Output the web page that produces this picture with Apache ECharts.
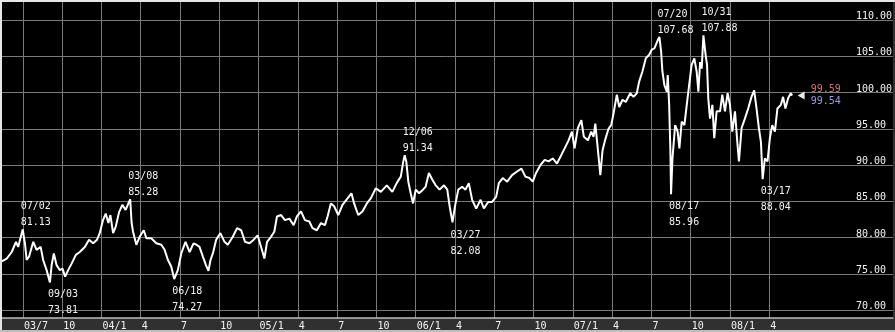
<!DOCTYPE html>
<html>
<head>
<meta charset="utf-8">
<script src="https://cdn.jsdelivr.net/npm/echarts@6/dist/echarts.min.js"></script>
<style>
html,body{margin:0;padding:0;background:#000;}
#c{width:895px;height:332px;}
</style>
</head>
<body>
<div id="c"></div>
<script>
// ---- data (decimal year, price) ----
const years = [
2003.365,2003.397,2003.429,2003.456,2003.470,2003.499,2003.513,2003.524,2003.540,2003.566,
2003.587,2003.613,2003.629,2003.651,2003.672,2003.683,2003.697,2003.714,2003.735,2003.752,
2003.769,2003.788,2003.810,2003.837,2003.862,2003.894,2003.921,2003.947,2003.972,2003.989,
2004.010,2004.027,2004.044,2004.057,2004.074,2004.091,2004.112,2004.133,2004.154,2004.183,
2004.192,2004.201,2004.222,2004.243,2004.269,2004.286,2004.317,2004.349,2004.381,2004.402,
2004.423,2004.444,2004.463,2004.486,2004.508,2004.535,2004.561,2004.586,2004.605,2004.624,
2004.645,2004.665,2004.681,2004.694,2004.709,2004.730,2004.757,2004.783,2004.804,2004.836,
2004.863,2004.889,2004.914,2004.942,2004.969,2004.994,2005.016,2005.037,2005.054,2005.079,
2005.100,2005.117,2005.143,2005.168,2005.196,2005.223,2005.244,2005.270,2005.295,2005.323,
2005.343,2005.371,2005.397,2005.422,2005.439,2005.460,2005.481,2005.507,2005.534,2005.566,
2005.591,2005.608,2005.634,2005.661,2005.689,2005.714,2005.746,2005.778,2005.816,2005.851,
2005.879,2005.905,2005.921,2005.930,2005.940,2005.953,2005.968,2005.983,2006.000,2006.021,
2006.046,2006.063,2006.084,2006.105,2006.127,2006.152,2006.180,2006.201,2006.216,2006.234,
2006.250,2006.271,2006.296,2006.317,2006.338,2006.359,2006.385,2006.413,2006.434,2006.461,
2006.486,2006.512,2006.529,2006.554,2006.582,2006.613,2006.645,2006.673,2006.698,2006.724,
2006.745,2006.766,2006.794,2006.821,2006.846,2006.872,2006.899,2006.927,2006.948,2006.973,
2006.994,2007.011,2007.032,2007.054,2007.070,2007.096,2007.117,2007.132,2007.143,2007.153,
2007.164,2007.175,2007.189,2007.206,2007.227,2007.244,2007.259,2007.280,2007.295,2007.316,
2007.337,2007.365,2007.386,2007.407,2007.422,2007.443,2007.464,2007.486,2007.502,2007.519,
2007.540,2007.551,2007.562,2007.570,2007.583,2007.598,2007.604,2007.613,2007.621,2007.625,
2007.634,2007.651,2007.667,2007.678,2007.693,2007.710,2007.725,2007.740,2007.756,2007.773,
2007.788,2007.799,2007.810,2007.820,2007.831,2007.845,2007.854,2007.862,2007.873,2007.888,
2007.900,2007.915,2007.937,2007.951,2007.968,2007.985,2008.000,2008.015,2008.032,2008.048,
2008.057,2008.074,2008.095,2008.116,2008.137,2008.154,2008.169,2008.184,2008.197,2008.208,
2008.222,2008.239,2008.254,2008.269,2008.286,2008.302,2008.324,2008.338,2008.353,2008.370,
2008.387,2008.396
];
const prices = [
76.7,77.1,78.0,79.4,78.7,81.13,79.2,76.9,77.4,79.4,
78.3,78.7,76.9,75.5,73.81,76.2,77.8,76.2,75.5,75.7,
74.6,75.5,76.4,77.6,78.0,78.7,79.7,79.2,79.7,80.6,
82.4,83.3,82.0,83.1,80.6,81.5,83.5,84.5,83.8,85.28,
82.0,80.8,79.0,80.1,81.0,79.9,79.9,79.2,79.0,78.3,
76.9,76.0,74.27,75.5,77.8,79.4,78.0,79.2,79.0,78.7,
77.4,76.2,75.4,76.9,77.8,79.7,80.6,79.4,79.0,80.1,
81.3,81.0,79.4,79.2,79.7,80.3,78.7,77.1,79.4,80.1,
80.8,82.9,83.1,82.4,82.6,81.7,82.9,83.6,82.4,82.2,
81.3,81.0,82.0,81.7,82.9,84.7,84.3,83.1,84.5,85.4,
86.1,84.7,83.1,83.6,84.7,85.4,86.8,86.3,87.2,86.3,
87.5,88.4,90.5,91.34,90.5,87.7,86.1,84.7,86.6,86.1,
86.6,87.0,88.9,88.0,87.2,86.6,87.2,86.6,84.3,82.08,
84.3,86.6,87.0,86.6,87.5,85.2,84.0,85.2,84.0,84.9,
84.9,85.6,87.5,88.2,87.7,88.6,89.1,89.5,88.4,88.2,
87.7,88.9,90.0,90.7,90.5,90.9,90.2,91.4,92.3,93.4,
94.6,92.3,95.1,96.2,93.9,93.4,94.6,93.9,95.7,95.5,
91.1,88.6,92.0,93.5,95.0,95.5,97.1,99.7,98.0,99.0,
98.7,99.9,99.4,99.9,101.5,102.9,104.7,105.2,105.9,106.1,
107.2,107.68,105.6,102.9,101.0,100.1,102.4,98.3,91.8,85.96,
90.9,95.5,94.6,92.3,96.0,95.5,98.3,101.0,103.8,104.7,
102.9,100.1,104.2,103.3,107.88,105.2,103.8,99.2,96.4,98.3,
93.7,97.4,97.4,99.7,97.4,99.9,98.3,94.6,97.4,92.8,
90.5,95.1,96.4,97.8,99.4,100.3,97.8,95.1,93.2,88.04,
90.9,90.5,93.7,95.5,94.6,97.8,98.3,99.4,97.8,99.2,
99.9,99.59
];

// ---- axis ticks ----
const xTicks = [2003.5,2003.75,2004.0,2004.25,2004.5,2004.75,2005.0,2005.25,2005.5,2005.75,
  2006.0,2006.25,2006.5,2006.75,2007.0,2007.25,2007.5,2007.75,2008.0,2008.25];
const xTickLabels = ['03/7','10','04/1','4','7','10','05/1','4','7','10',
  '06/1','4','7','10','07/1','4','7','10','08/1','4'];
const yTicks = [70,75,80,85,90,95,100,105,110];

// ---- high/low annotations ----
const extLabels = ['07/02','09/03','03/08','06/18','12/06','03/27','07/20','08/17','10/31','03/17'];
const extYears  = [2003.499,2003.672,2004.183,2004.463,2005.930,2006.234,2007.551,2007.625,2007.831,2008.208];
const extValues = [81.13,73.81,85.28,74.27,91.34,82.08,107.68,85.96,107.88,88.04];
const extTypes  = ['high','low','high','low','high','low','high','low','high','low'];

// ---- last prices ----
const lastYear = 2008.453;
const lastPrices = [99.59, 99.54];

const FONT = 'DejaVu Sans Mono';
const chart = echarts.init(document.getElementById('c'), null, {renderer:'canvas'});

const extPoints = extLabels.map((lab, i) => ({
  coord: [extYears[i], extValues[i]],
  symbol: 'circle', symbolSize: 1,
  itemStyle: {color: 'rgba(0,0,0,0)'},
  label: {
    show: true,
    formatter: lab + '\n' + extValues[i].toFixed(2),
    position: extTypes[i] === 'high' ? [-1.5, -30] : [-1.5, 5],
    align: 'left', verticalAlign: 'top',
    color: '#f4f4f4', fontFamily: FONT, fontSize: 10, lineHeight: 16
  }
}));

const lastPoint = {
  coord: [lastYear, lastPrices[0]],
  symbol: 'triangle', symbolSize: [8, 7], symbolRotate: 90,
  itemStyle: {color: '#ececec'},
  label: {
    show: true, position: 'right', distance: 6,
    formatter: '{a|' + lastPrices[0].toFixed(2) + '}\n{b|' + lastPrices[1].toFixed(2) + '}',
    rich: {
      a: {color: '#d27373', fontFamily: FONT, fontSize: 10, lineHeight: 12.5},
      b: {color: '#9a9ae6', fontFamily: FONT, fontSize: 10, lineHeight: 12.5}
    }
  }
};

chart.setOption({
  animation: false,
  backgroundColor: '#303030',
  grid: {left: 0, right: 0, top: 0, bottom: 14, show: true, backgroundColor: '#000', borderWidth: 0},
  xAxis: {
    type: 'value',
    min: 2003.3543, max: 2009.0368,
    axisLine: {show: true, lineStyle: {color: '#bdbdbd', width: 1.5}},
    axisTick: {show: false, customValues: xTicks},
    splitLine: {show: true, lineStyle: {color: '#7a7a7a', width: 1}},
    axisLabel: {
      customValues: xTicks,
      formatter: function (v) {
        for (let i = 0; i < xTicks.length; i++) if (Math.abs(xTicks[i] - v) < 1e-6) return xTickLabels[i];
        return '';
      },
      align: 'left', margin: 3, padding: [0, 0, 0, 1],
      color: '#f4f4f4', fontFamily: FONT, fontSize: 10
    }
  },
  yAxis: {
    type: 'value', position: 'right',
    min: 68.897, max: 112.759,
    axisLine: {show: false},
    axisTick: {show: false, customValues: yTicks},
    splitLine: {show: true, lineStyle: {color: '#7a7a7a', width: 1}},
    axisLabel: {
      inside: true, customValues: yTicks,
      formatter: v => v.toFixed(2),
      align: 'left', verticalAlign: 'bottom', lineHeight: 7, margin: 37,
      color: '#f4f4f4', fontFamily: FONT, fontSize: 10
    }
  },
  series: [{
    type: 'line',
    data: years.map((y, i) => [y, prices[i]]),
    showSymbol: false, symbol: 'none',
    lineStyle: {color: '#ffffff', width: 2},
    markPoint: {data: extPoints.concat([lastPoint]), animation: false}
  }],
  graphic: [
    {type: 'rect', shape: {x: 0, y: 0, width: 895, height: 2}, style: {fill: '#e6e6e6'}, z: 100},
    {type: 'rect', shape: {x: 0, y: 0, width: 2, height: 332}, style: {fill: '#e6e6e6'}, z: 100},
    {type: 'rect', shape: {x: 0, y: 330, width: 895, height: 2}, style: {fill: '#bdbdbd'}, z: 100}
  ]
});
</script>
</body>
</html>
